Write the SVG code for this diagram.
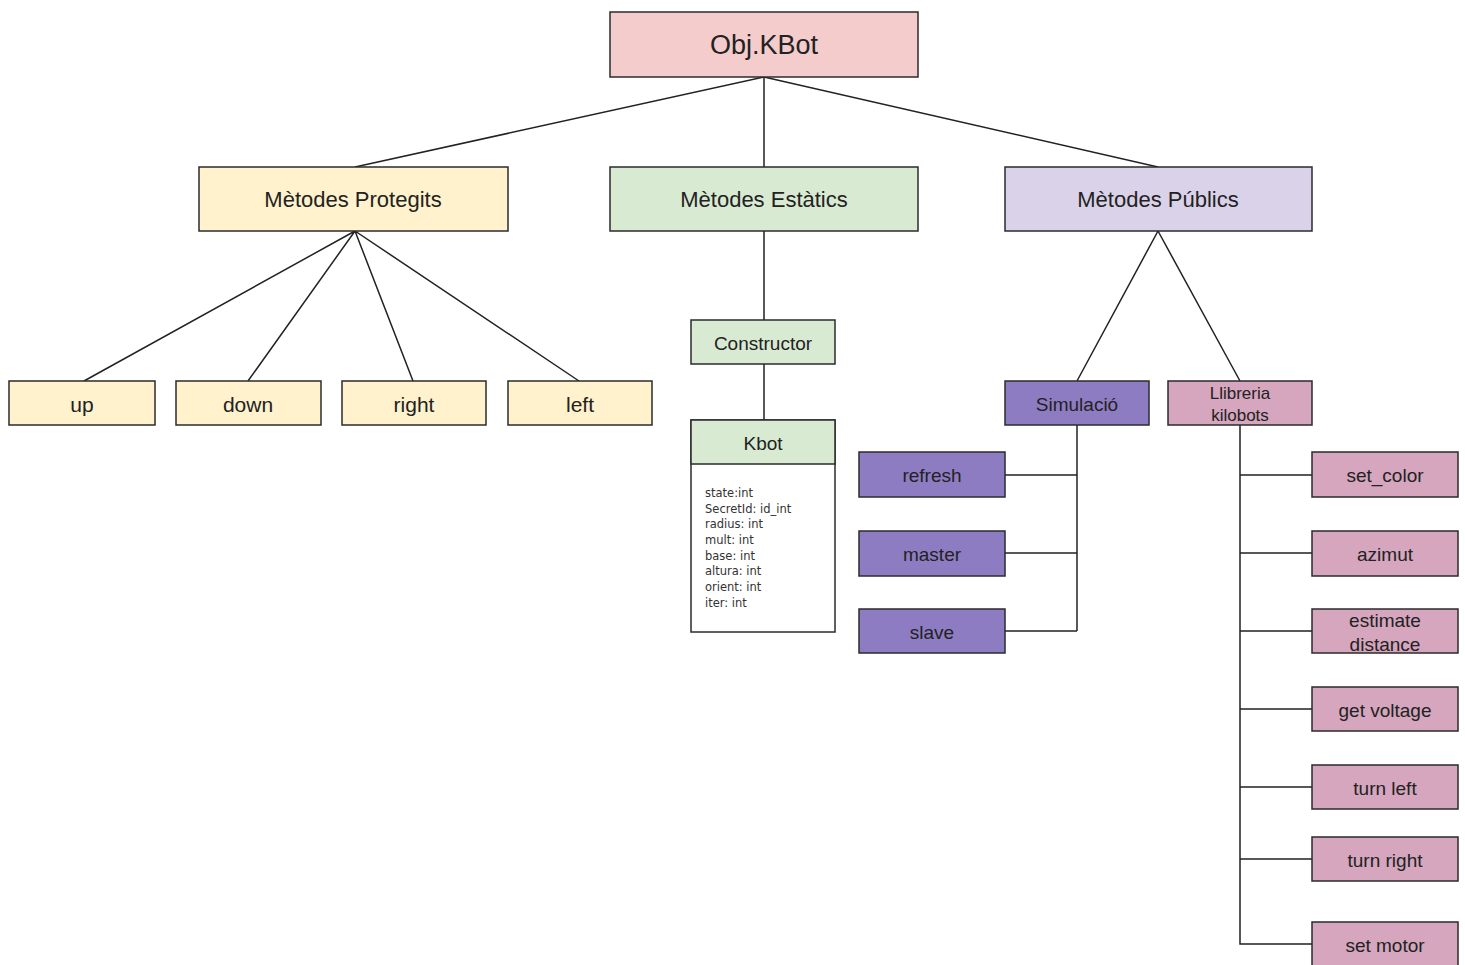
<svg xmlns="http://www.w3.org/2000/svg" width="1465" height="965" viewBox="0 0 1465 965">
<style>
.n rect{stroke:#2b2b2b;stroke-width:1.5}
.t{font-family:"Liberation Sans",Arial,sans-serif;fill:#222;text-anchor:middle;dominant-baseline:central}
.l{stroke:#222;stroke-width:1.5;fill:none}
.r{fill:#f4cccc}.y{fill:#fff2cc}.g{fill:#d9ead3}.p{fill:#d9d2e9}.v{fill:#8e7cc3}.k{fill:#d5a6bd}.w{fill:#fff}
.a{font-family:"DejaVu Sans",sans-serif;font-size:11.5px;fill:#333}
</style>
<rect width="1465" height="965" fill="#fff"/>
<g id="connectors">
<path class="l" d="M764 77L355 167M764 77V167M764 77L1158 167"/>
<path class="l" d="M355 231L84 381M355 231L248 381M355 231L413 381M355 231L579 381"/>
<path class="l" d="M764 231V320M764 364V420"/>
<path class="l" d="M1158 231L1077 381M1158 231L1240 381"/>
<path class="l" d="M1077 425V631M1005 475H1077M1005 553H1077M1005 631H1077"/>
<path class="l" d="M1240 425V944H1312M1240 475H1312M1240 553H1312M1240 631H1312M1240 709H1312M1240 787H1312M1240 859H1312"/>
</g>
<g class="n">
<g id="objkbot"><rect class="r" x="610" y="12" width="308" height="65"/><text class="t" x="764" y="45" font-size="27">Obj.KBot</text></g>
<g id="protegits"><rect class="y" x="199" y="167" width="309" height="64"/><text class="t" x="353" y="199" font-size="22">Mètodes Protegits</text></g>
<g id="estatics"><rect class="g" x="610" y="167" width="308" height="64"/><text class="t" x="764" y="199" font-size="22">Mètodes Estàtics</text></g>
<g id="publics"><rect class="p" x="1005" y="167" width="307" height="64"/><text class="t" x="1158" y="199" font-size="22">Mètodes Públics</text></g>
<g id="up"><rect class="y" x="9" y="381" width="146" height="44"/><text class="t" x="82" y="404" font-size="21">up</text></g>
<g id="down"><rect class="y" x="176" y="381" width="145" height="44"/><text class="t" x="248" y="404" font-size="21">down</text></g>
<g id="right"><rect class="y" x="342" y="381" width="144" height="44"/><text class="t" x="414" y="404" font-size="21">right</text></g>
<g id="left"><rect class="y" x="508" y="381" width="144" height="44"/><text class="t" x="580" y="404" font-size="21">left</text></g>
<g id="constructor"><rect class="g" x="691" y="320" width="144" height="44"/><text class="t" x="763" y="343" font-size="19">Constructor</text></g>
<g id="kbot"><rect class="w" x="691" y="420" width="144" height="212"/><rect class="g" x="691" y="420" width="144" height="44"/><text class="t" x="763" y="443" font-size="19">Kbot</text>
<text class="a" x="705" y="497">state:int</text>
<text class="a" x="705" y="513">SecretId: id_int</text>
<text class="a" x="705" y="528">radius: int</text>
<text class="a" x="705" y="544">mult: int</text>
<text class="a" x="705" y="560">base: int</text>
<text class="a" x="705" y="575">altura: int</text>
<text class="a" x="705" y="591">orient: int</text>
<text class="a" x="705" y="607">iter: int</text></g>
<g id="simulacio"><rect class="v" x="1005" y="381" width="144" height="44"/><text class="t" x="1077" y="404" font-size="19">Simulació</text></g>
<g id="llibreria"><rect class="k" x="1168" y="381" width="144" height="44"/><text class="t" x="1240" y="393" font-size="17">Llibreria</text><text class="t" x="1240" y="415" font-size="17">kilobots</text></g>
<g id="refresh"><rect class="v" x="859" y="452" width="146" height="45"/><text class="t" x="932" y="475" font-size="19">refresh</text></g>
<g id="master"><rect class="v" x="859" y="531" width="146" height="45"/><text class="t" x="932" y="554" font-size="19">master</text></g>
<g id="slave"><rect class="v" x="859" y="609" width="146" height="44"/><text class="t" x="932" y="632" font-size="19">slave</text></g>
<g id="set_color"><rect class="k" x="1312" y="452" width="146" height="45"/><text class="t" x="1385" y="475" font-size="19">set_color</text></g>
<g id="azimut"><rect class="k" x="1312" y="531" width="146" height="45"/><text class="t" x="1385" y="554" font-size="19">azimut</text></g>
<g id="estimate"><rect class="k" x="1312" y="609" width="146" height="44"/><text class="t" x="1385" y="620" font-size="19">estimate</text><text class="t" x="1385" y="644" font-size="19">distance</text></g>
<g id="get_voltage"><rect class="k" x="1312" y="687" width="146" height="44"/><text class="t" x="1385" y="710" font-size="19">get voltage</text></g>
<g id="turn_left"><rect class="k" x="1312" y="765" width="146" height="44"/><text class="t" x="1385" y="788" font-size="19">turn left</text></g>
<g id="turn_right"><rect class="k" x="1312" y="837" width="146" height="44"/><text class="t" x="1385" y="860" font-size="19">turn right</text></g>
<g id="set_motor"><rect class="k" x="1312" y="922" width="146" height="50"/><text class="t" x="1385" y="945" font-size="19">set motor</text></g>
</g>
</svg>
